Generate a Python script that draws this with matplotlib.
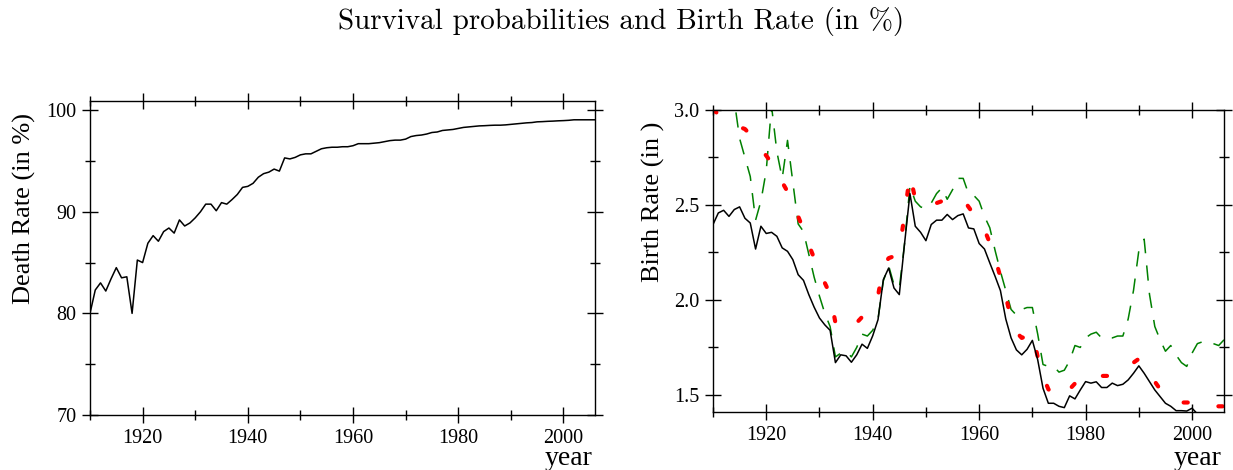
import numpy as np
import matplotlib.pyplot as plt
from matplotlib.ticker import MultipleLocator

# data (one value per year)
years = list(range(1910, 2007))

survival = [80.0, 82.3, 83.0, 82.2, 83.4, 84.5, 83.5, 83.6, 80.0, 85.25,
            85.0, 86.9, 87.65, 87.1, 88.05, 88.4, 87.9, 89.2, 88.6, 88.9,
            89.4, 90.0, 90.75, 90.75, 90.1, 90.9, 90.75, 91.2, 91.7, 92.4,
            92.5, 92.8, 93.4, 93.75, 93.9, 94.2, 94.0, 95.3, 95.2, 95.35,
            95.6, 95.7, 95.7, 95.95, 96.2, 96.3, 96.35, 96.35, 96.4, 96.4,
            96.5, 96.7, 96.7, 96.7, 96.75, 96.8, 96.9, 97.0, 97.05, 97.05,
            97.15, 97.4, 97.5, 97.55, 97.65, 97.8, 97.85, 98.0, 98.05, 98.1,
            98.2, 98.3, 98.35, 98.4, 98.45, 98.47, 98.5, 98.52, 98.52, 98.55,
            98.6, 98.65, 98.7, 98.75, 98.78, 98.85, 98.87, 98.9, 98.92, 98.95,
            98.97, 99.0, 99.05, 99.05, 99.05, 99.05, 99.05]

birth_black = [2.397, 2.458, 2.472, 2.44, 2.476, 2.49, 2.43, 2.405, 2.268, 2.388,
               2.35, 2.356, 2.335, 2.274, 2.256, 2.212, 2.133, 2.103, 2.028, 1.962,
               1.905, 1.869, 1.84, 1.67, 1.711, 1.706, 1.672, 1.711, 1.767, 1.745,
               1.811, 1.896, 2.107, 2.168, 2.063, 2.028, 2.30, 2.56, 2.388, 2.356,
               2.312, 2.397, 2.42, 2.42, 2.45, 2.423, 2.444, 2.453, 2.379, 2.374,
               2.297, 2.268, 2.195, 2.124, 2.049, 1.90, 1.80, 1.737, 1.711, 1.74,
               1.787, 1.685, 1.535, 1.456, 1.456, 1.44, 1.433, 1.495, 1.479, 1.526,
               1.57, 1.562, 1.569, 1.539, 1.539, 1.562, 1.549, 1.556, 1.579, 1.614,
               1.653, 1.614, 1.57, 1.526, 1.491, 1.456, 1.44, 1.417, 1.417, 1.415,
               1.43, 1.40, 1.39, 1.39, 1.38, 1.38, 1.38]

birth_red = [3.00, 2.98, 2.96, 2.95, 2.93, 2.91, 2.90, 2.87, 2.83, 2.79,
             2.76, 2.72, 2.67, 2.62, 2.57, 2.51, 2.44, 2.37, 2.29, 2.22,
             2.15, 2.09, 2.03, 1.88, 1.84, 1.85, 1.86, 1.88, 1.91, 1.94,
             1.97, 2.02, 2.18, 2.22, 2.23, 2.26, 2.45, 2.66, 2.53, 2.50,
             2.49, 2.50, 2.51, 2.52, 2.53, 2.54, 2.54, 2.53, 2.49, 2.45,
             2.42, 2.37, 2.30, 2.22, 2.12, 2.02, 1.90, 1.83, 1.80, 1.81,
             1.83, 1.70, 1.60, 1.53, 1.50, 1.48, 1.50, 1.53, 1.56, 1.59,
             1.60, 1.60, 1.60, 1.60, 1.60, 1.60, 1.61, 1.63, 1.65, 1.67,
             1.69, 1.66, 1.62, 1.57, 1.53, 1.50, 1.48, 1.47, 1.46, 1.46,
             1.46, 1.45, 1.45, 1.44, 1.44, 1.44, 1.44]

birth_green = [3.30, 3.35, 3.30, 3.20, 3.05, 2.85, 2.75, 2.65, 2.42, 2.52,
               2.68, 3.02, 2.78, 2.64, 2.84, 2.62, 2.40, 2.36, 2.24, 2.12,
               2.02, 1.93, 1.86, 1.70, 1.72, 1.73, 1.70, 1.75, 1.82, 1.81,
               1.84, 1.90, 2.10, 2.18, 2.08, 2.06, 2.30, 2.60, 2.52, 2.49,
               2.48, 2.51, 2.56, 2.59, 2.53, 2.58, 2.64, 2.64, 2.56, 2.55,
               2.52, 2.44, 2.38, 2.26, 2.15, 2.05, 1.95, 1.92, 1.95, 1.96,
               1.96, 1.82, 1.66, 1.65, 1.65, 1.62, 1.63, 1.68, 1.76, 1.75,
               1.80, 1.82, 1.83, 1.80, 1.80, 1.80, 1.81, 1.81, 1.90, 2.05,
               2.26, 2.32, 2.03, 1.86, 1.79, 1.73, 1.76, 1.71, 1.67, 1.65,
               1.72, 1.77, 1.78, 1.77, 1.77, 1.76, 1.79]

plt.rcParams['font.family'] = ['Liberation Serif', 'DejaVu Serif']

W, H = 1233, 470
fig = plt.figure(figsize=(W / 100, H / 100), dpi=100)
ax1 = fig.add_axes([90 / W, 55 / H, 505 / W, 314 / H])
ax2 = fig.add_axes([713 / W, 58 / H, 511 / W, 302 / H])


def style(ax):
    ax.tick_params(which='both', direction='inout', top=True, right=True,
                   labelsize=14.5, width=1, pad=4)
    ax.tick_params(which='major', length=11.5)
    ax.tick_params(which='minor', length=6.5)
    for s in ax.spines.values():
        s.set_linewidth(1)
    ax.xaxis.set_major_locator(MultipleLocator(20))
    ax.xaxis.set_minor_locator(MultipleLocator(10))
    ax.set_xlim(1910, 2006)


# left panel
ax1.plot(years, survival, color='black', lw=1.1)
style(ax1)
ax1.set_ylim(70, 100.9)
ax1.yaxis.set_major_locator(MultipleLocator(10))
ax1.yaxis.set_minor_locator(MultipleLocator(5))

# right panel
ax2.plot(years, birth_green, color='green', lw=1.1, linestyle=(0, (10, 8)))
ax2.plot(years, birth_red, color='red', lw=3, linestyle=(0, (1, 7.5)),
         dash_capstyle='round')
ax2.plot(years, birth_black, color='black', lw=1.1)
style(ax2)
ax2.set_ylim(1.41, 3.0)
ax2.yaxis.set_major_locator(MultipleLocator(0.5))
ax2.yaxis.set_minor_locator(MultipleLocator(0.25))
ax2.yaxis.set_major_formatter(plt.FormatStrFormatter('%.1f'))

# texts
fig.text(621 / W, 1 - 22 / H, 'Survival probabilities and Birth Rate (in %)',
         family='cmr10', size=21, ha='center', va='center')
fig.text(24.5 / W, 1 - 209 / H, 'Death Rate (in %)', rotation=90, size=19,
         ha='center', va='center')
fig.text(653 / W, 1 - 201.5 / H, 'Birth Rate (in )', rotation=90, size=19,
         ha='center', va='center')
fig.text(593 / W, 1 - 465 / H, 'year', size=20, ha='right', va='baseline')
fig.text(1222 / W, 1 - 465 / H, 'year', size=20, ha='right', va='baseline')

fig.savefig('out.png', dpi=100)
